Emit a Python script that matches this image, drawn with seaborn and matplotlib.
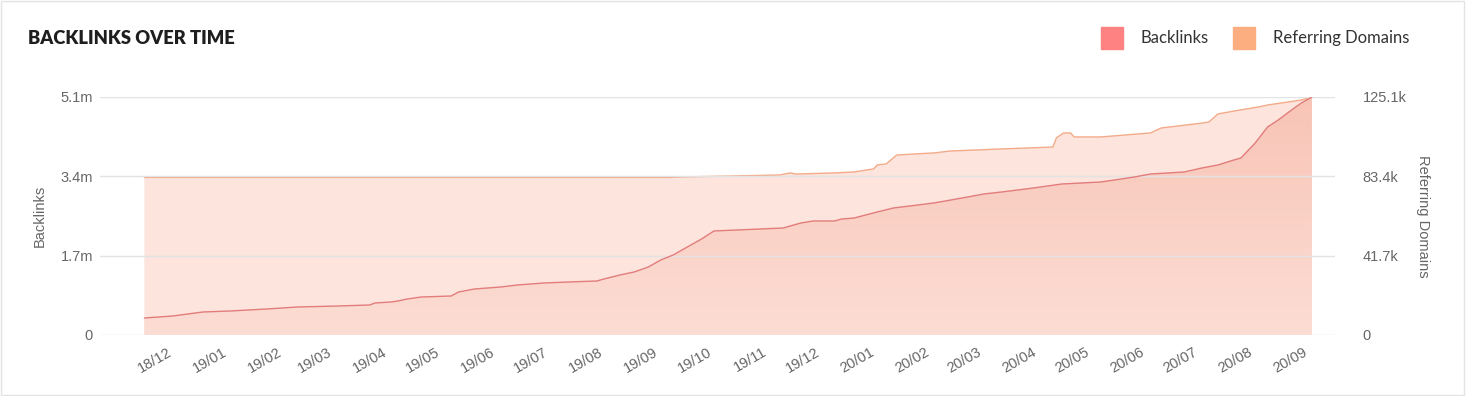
import numpy as np
import pandas as pd
import matplotlib
matplotlib.use("Agg")
import matplotlib.pyplot as plt
import matplotlib.dates as mdates
from matplotlib.colors import LinearSegmentedColormap
from matplotlib.patches import Patch, Rectangle
import seaborn as sns

# backlinks, in millions
backlink_dates = [
    "2018-11-18", "2018-12-04", "2018-12-21", "2019-01-05", "2019-01-26",
    "2019-02-12", "2019-03-07", "2019-03-25", "2019-03-28", "2019-04-06",
    "2019-04-10", "2019-04-15", "2019-04-23", "2019-05-10", "2019-05-14",
    "2019-05-23", "2019-06-07", "2019-06-16", "2019-07-01", "2019-07-15",
    "2019-07-31", "2019-08-04", "2019-08-13", "2019-08-21", "2019-08-29",
    "2019-09-05", "2019-09-12", "2019-09-20", "2019-09-28", "2019-10-05",
    "2019-11-13", "2019-11-23", "2019-11-30", "2019-12-12", "2019-12-16",
    "2019-12-23", "2020-01-05", "2020-01-14", "2020-01-28", "2020-02-06",
    "2020-02-25", "2020-03-05", "2020-03-15", "2020-04-02", "2020-04-18",
    "2020-05-10", "2020-05-29", "2020-06-07", "2020-06-26", "2020-07-06",
    "2020-07-15", "2020-07-24", "2020-07-28", "2020-08-05", "2020-08-12",
    "2020-08-18", "2020-08-24", "2020-08-31", "2020-09-06",
]
backlinks = [
    0.364, 0.407, 0.493, 0.514, 0.557,
    0.600, 0.621, 0.643, 0.686, 0.707,
    0.729, 0.771, 0.814, 0.836, 0.921,
    0.986, 1.029, 1.071, 1.114, 1.136,
    1.157, 1.200, 1.286, 1.350, 1.457,
    1.607, 1.714, 1.886, 2.057, 2.229,
    2.293, 2.400, 2.443, 2.443, 2.486,
    2.507, 2.636, 2.721, 2.786, 2.829,
    2.957, 3.021, 3.064, 3.150, 3.236,
    3.279, 3.386, 3.450, 3.493, 3.579,
    3.643, 3.750, 3.793, 4.114, 4.457,
    4.607, 4.779, 4.971, 5.100,
]

# referring domains, in thousands
domain_dates = [
    "2018-11-18", "2019-09-09", "2019-09-18", "2019-10-16", "2019-11-11",
    "2019-11-17", "2019-11-20", "2019-12-12", "2019-12-23", "2020-01-03",
    "2020-01-05", "2020-01-10", "2020-01-16", "2020-01-25", "2020-02-06",
    "2020-02-15", "2020-03-15", "2020-04-13", "2020-04-15", "2020-04-19",
    "2020-04-23", "2020-04-25", "2020-05-10", "2020-06-07", "2020-06-13",
    "2020-07-06", "2020-07-10", "2020-07-15", "2020-07-24", "2020-08-07",
    "2020-08-12", "2020-08-31", "2020-09-06",
]
domains = [
    82.8, 82.8, 83.1, 83.6, 84.1,
    85.2, 84.6, 85.2, 85.7, 87.3,
    89.4, 89.9, 94.6, 95.1, 95.7,
    96.7, 97.8, 98.8, 103.6, 106.2,
    106.2, 104.1, 104.1, 106.2, 108.8,
    111.4, 112.0, 116.2, 117.7, 119.9,
    120.9, 123.5, 125.1,
]

month_ticks = pd.date_range("2018-12-01", "2020-09-01", freq="MS")
left_ticks = [0, 1.7, 3.4, 5.1]
left_labels = ["0", "1.7m", "3.4m", "5.1m"]
right_ticks = [0, 41.7, 83.4, 125.1]
right_labels = ["0", "41.7k", "83.4k", "125.1k"]

bl_dates = pd.to_datetime(backlink_dates)
rd_dates = pd.to_datetime(domain_dates)

sns.set_theme(style="white")
plt.rcParams["font.family"] = ["Liberation Sans", "DejaVu Sans"]

fig = plt.figure(figsize=(14.67, 3.96), dpi=100)
ax = fig.add_axes([100 / 1467, 1 - 335 / 396, 1235 / 1467, 238 / 396])
ax2 = ax.twinx()
ax.set_zorder(ax2.get_zorder() + 1)
ax.patch.set_visible(False)

# referring domains behind
ax2.fill_between(rd_dates, domains, 0, facecolor="#fde4dd", edgecolor="none", zorder=1)
sns.lineplot(x=rd_dates, y=domains, ax=ax2, color="#f3ab8a", linewidth=1, estimator=None, zorder=2)

# backlinks with vertical gradient
poly = ax.fill_between(bl_dates, backlinks, 0, facecolor="none", edgecolor="none")
cmap = LinearSegmentedColormap.from_list("bl", ["#fcddd4", "#f8c4b6"])
x0, x1 = mdates.date2num(bl_dates[0]), mdates.date2num(bl_dates[-1])
im = ax.imshow(np.linspace(0, 1, 256).reshape(-1, 1), cmap=cmap, origin="lower",
               aspect="auto", extent=[x0, x1, 0, 5.1], zorder=1)
im.set_clip_path(poly.get_paths()[0], transform=ax.transData)
sns.lineplot(x=bl_dates, y=backlinks, ax=ax, color="#e27d7c", linewidth=1, estimator=None, zorder=2)

ax.set_xlim(pd.Timestamp("2018-10-24"), pd.Timestamp("2020-09-19"))
ax.set_ylim(0, 5.1)
ax2.set_ylim(0, 125.1)

ax.set_axisbelow("line")
ax.grid(axis="y", color="#e3e3e3", linewidth=1)
ax.grid(axis="x", visible=False)
ax2.grid(False)

ax.set_yticks(left_ticks, left_labels)
ax2.set_yticks(right_ticks, right_labels)
ax.set_xticks(month_ticks)
ax.xaxis.set_major_formatter(mdates.DateFormatter("%y/%m"))

ax.tick_params(axis="y", length=0, pad=5, labelsize=10.5, labelcolor="#666666")
ax2.tick_params(axis="y", length=0, pad=20, labelsize=10.5, labelcolor="#666666")
ax.tick_params(axis="x", length=0, pad=7, labelsize=10.5, labelcolor="#666666")
plt.setp(ax.get_xticklabels(), rotation=30, ha="right", rotation_mode="anchor")

for a in (ax, ax2):
    for s in a.spines.values():
        s.set_visible(False)

ax.set_ylabel("Backlinks", fontsize=10.5, color="#666666")
ax.yaxis.set_label_coords(-0.043, 0.5)
ax2.set_ylabel("Referring Domains", fontsize=10.5, color="#666666", rotation=270, va="bottom")
ax2.yaxis.set_label_coords(1.0656, 0.5)
ax.set_xlabel("")

fig.text(28 / 1467, 1 - 38 / 396, "BACKLINKS OVER TIME", fontsize=13.2, fontweight="heavy",
         family="Lato", color="#1e1e1e", va="center")

handles = [Patch(color="#ff8282", label="Backlinks"),
           Patch(color="#fdae80", label="Referring Domains")]
fig.legend(handles=handles, loc="center right", bbox_to_anchor=(1418 / 1467, 1 - 38 / 396),
           ncol=2, frameon=False, prop={"family": "Lato", "size": 12, "weight": "normal"},
           labelcolor="#333333", handlelength=1.3, handleheight=1.65, handletextpad=1.1,
           columnspacing=1.45, borderpad=0)

fig.patches.append(Rectangle((0.001, 0.003), 0.997, 0.994, transform=fig.transFigure,
                             fill=False, edgecolor="#e3e3e3", linewidth=1))

fig.savefig("out.png", dpi=100)
